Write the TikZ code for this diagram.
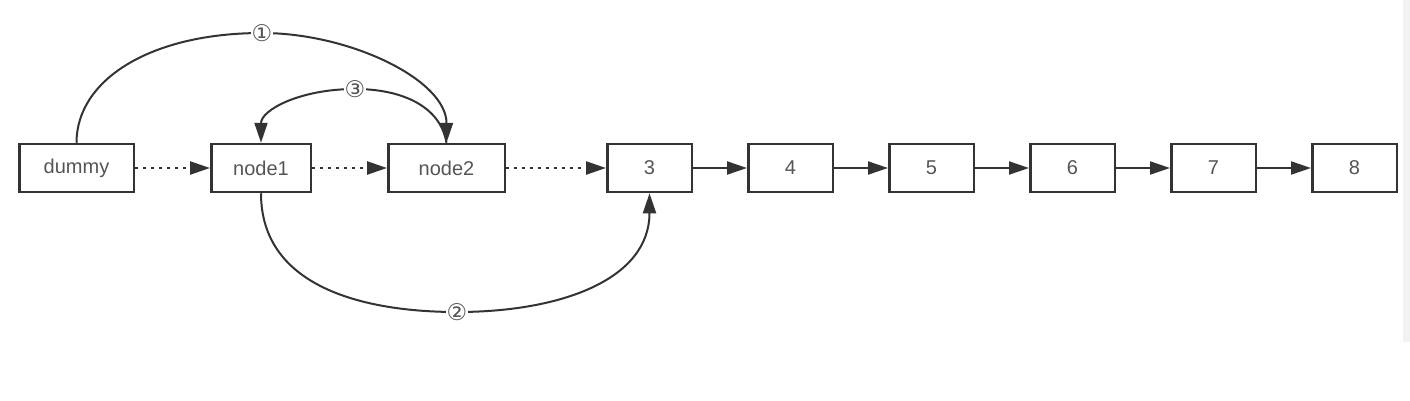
\documentclass[tikz,border=0pt]{standalone}
\usepackage{fontspec}
\setmainfont{Liberation Sans}
\newfontfamily\circfont{DejaVu Sans}
\usepackage{tikz}
\usetikzlibrary{arrows.meta,positioning}
\definecolor{inkgray}{HTML}{333333}
\definecolor{textgray}{HTML}{555555}
\definecolor{stripgray}{HTML}{F2F2F2}

\begin{document}
\begin{tikzpicture}[
			x=1pt,y=-1pt,
			every node/.style={font=\fontsize{20}{24}\selectfont,text=textgray},
			box/.style={draw=inkgray,line width=2.5pt,minimum height=48pt,minimum width=84.5pt,inner sep=0pt},
			arr/.style={-{Triangle[length=20pt,width=13pt]},line width=2pt,draw=inkgray},
			dotarr/.style={arr,line width=2.4pt,dash pattern=on 3pt off 5pt},
			lbl/.style={fill=white,inner sep=1pt,font=\circfont\fontsize{23}{26}\selectfont}
			]
			\useasboundingbox (0,0) rectangle (1410,400);
			\fill[stripgray] (1403,0) rectangle (1410,342);
			\node[box,minimum width=114.5pt] (dummy) at (76.5,168) {dummy};
			\node[box,minimum width=99.5pt,right=75pt of dummy] (node1) {node1};
			\node[box,minimum width=116.5pt,right=75pt of node1] (node2) {node2};
			\node[box,right=100pt of node2] (n3) {3};
			\draw[dotarr] (dummy)--(node1);
			\draw[dotarr] (node1)--(node2);
			\draw[dotarr] (node2)--(n3);
			\foreach \i/\j in {3/4,4/5,5/6,6/7,7/8} {
				\node[box,right=54pt of n\i] (n\j) {\j};
				\draw[arr] (n\i)--(n\j);
			}
			% numbered pointer moves
			\draw[arr] (dummy.north) .. controls (76.5,80) and (150,33) .. (262,33) node[lbl] {①}
				.. controls (350,33) and (446.5,80) .. (node2.north);
			\draw[arr] (node2.north) .. controls (440,105) and (400,89) .. (355,89) node[lbl] {③}
				.. controls (300,89) and (261,110) .. (node1.north);
			\draw[arr] (node1.south) .. controls (261,290) and (370,312) .. (457,312) node[lbl] {②}
				.. controls (560,312) and (649.5,280) .. (n3.south);
		\end{tikzpicture}
\end{document}
